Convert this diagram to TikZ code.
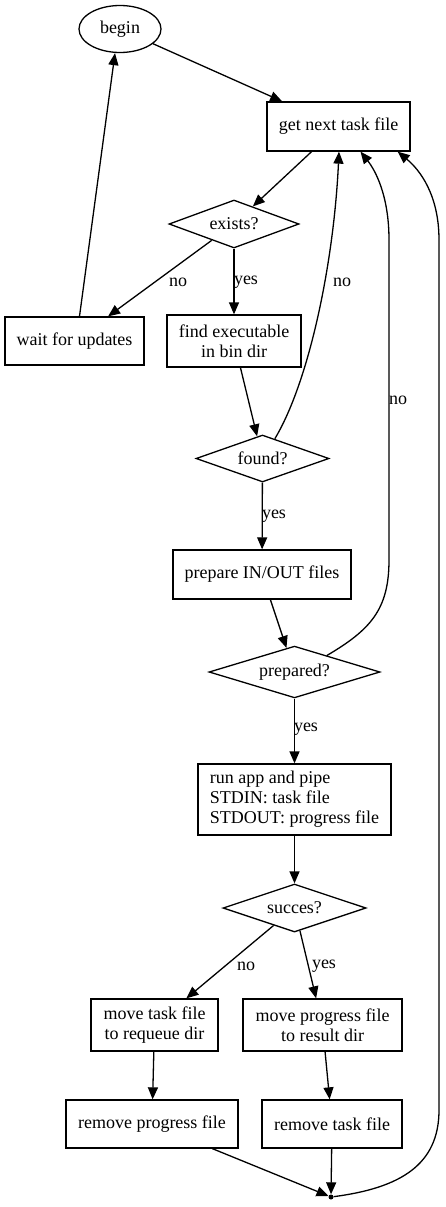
\documentclass[tikz,border=0pt]{standalone}
\usepackage{fontspec}
\setmainfont{Liberation Serif}
\usetikzlibrary{shapes.geometric,arrows.meta,calc}
\begin{document}
\begin{tikzpicture}[x=1pt,y=-1pt,
  every node/.style={font=\fontsize{18}{20}\selectfont},
  box/.style={draw,rectangle,inner sep=0pt,line width=1.3pt,align=center},
  dec/.style={draw,diamond,inner sep=0pt,line width=1.3pt,aspect=2},
  edge/.style={line width=1.3pt,-{Triangle[length=12pt,width=10pt]}},
  lbl/.style={inner sep=0pt,anchor=center}]
\fill[white] (0,0) rectangle (445,1207);
\useasboundingbox (0,0) rectangle (445,1207);

\node[ellipse,draw,line width=1.3pt,minimum width=82,minimum height=47,inner sep=0pt] (begin) at (120,29) {begin};
\node[box,minimum width=143,minimum height=49] (get) at (338.5,126.5) {get next task file};
\node[dec,minimum width=130,minimum height=48] (exists) at (234,224) {exists?};
\node[box,minimum width=139,minimum height=48] (wait) at (74.5,341) {wait for updates};
\node[box,minimum width=134,minimum height=52] (find) at (234,341) {find executable\\in bin dir};
\node[dec,minimum width=133,minimum height=47] (found) at (262.5,458.5) {found?};
\node[box,minimum width=178,minimum height=49] (prep) at (262,574.5) {prepare IN/OUT files};
\node[dec,minimum width=171,minimum height=48] (prepd) at (294.5,672) {prepared?};
\node[box,minimum width=193,minimum height=71,align=left] (run) at (294.5,799.5) {run app and pipe\\STDIN: task file\\STDOUT: progress file};
\node[dec,minimum width=143,minimum height=48] (succ) at (294.5,908) {succes?};
\node[box,minimum width=127,minimum height=52] (mtask) at (154.5,1025) {move task file\\to requeue dir};
\node[box,minimum width=159,minimum height=52] (mprog) at (322.5,1025) {move progress file\\to result dir};
\node[box,minimum width=172,minimum height=48] (rprog) at (152,1124) {remove progress file};
\node[box,minimum width=140,minimum height=48] (rtask) at (332,1124) {remove task file};
\node[circle,fill,inner sep=0pt,minimum size=5] (pt) at (331,1197) {};

\draw[edge] (begin) -- (get);
\draw[edge] (get) -- (exists);
\draw[edge] (exists) -- (wait);
\draw[edge] (exists) -- (find);
\draw[edge] ($(wait.north)+(5,0)$) -- ($(begin.south)+(-5,0)$);
\draw[edge] (find) -- (found);
\draw[edge] (found.58) .. controls (310,380) and (334,260) .. ($(get.south)+(0.5,0)$);
\draw[edge] (found) -- (prep);
\draw[edge] (prep) -- (prepd);
\draw[edge] (prepd.27) .. controls (370,630) and (389,610) .. (389,560) -- (389,240) .. controls (389,195) and (375,170) .. ($(get.south)+(22,0)$);
\draw[edge] (prepd) -- (run);
\draw[edge] (run) -- (succ);
\draw[edge] (succ) -- (mtask);
\draw[edge] (succ) -- (mprog);
\draw[edge] (mtask) -- (rprog);
\draw[edge] (mprog) -- (rtask);
\draw[edge] (rprog) -- (pt);
\draw[edge] (rtask) -- (pt);
\draw[edge] (pt) .. controls (400,1188) and (439,1165) .. (439,1110) -- (439,240) .. controls (439,195) and (420,170) .. ($(get.south east)+(-13,0)$);

\node[lbl] (l1) at (178,282) {no};
\node[lbl] (l2) at (246,282) {yes};
\node[lbl] (l3) at (342,282) {no};
\node[lbl] (l4) at (398,400) {no};
\node[lbl] (l5) at (274,516) {yes};
\node[lbl] (l6) at (306,729) {yes};
\node[lbl] (l7) at (246,966) {no};
\node[lbl] (l8) at (324,966) {yes};
\end{tikzpicture}
\end{document}
